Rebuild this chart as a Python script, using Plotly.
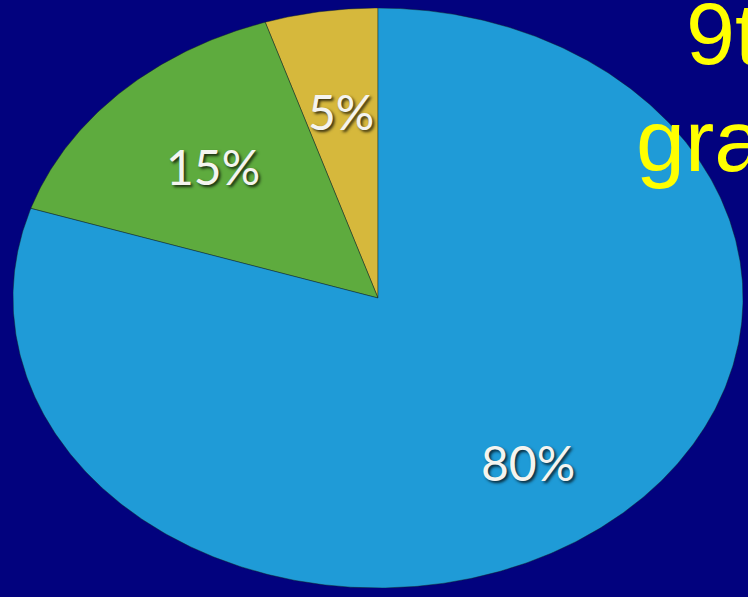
import numpy as np
import plotly.graph_objects as go

# Pie data
labels = ["5%", "15%", "80%"]
values = [5, 15, 80]
colors = ["#d6b83c", "#5eab3e", "#1f9bd7"]

# Title text (runs off the right edge)
title_lines = ["9th", "grade"]

W, H = 748, 597
BG = "#02027e"

fig = go.Figure()

total = float(sum(values))
start = 90.0  # 12 o'clock, slices laid out counter-clockwise
label_r = [0.65, 0.64, 0.70]
annotations = []
for i, (lab, v, c) in enumerate(zip(labels, values, colors)):
    span = 360.0 * v / total
    th = np.radians(np.linspace(start, start + span, max(int(span * 2), 8)))
    xs = np.concatenate([[0.0], np.cos(th), [0.0]])
    ys = np.concatenate([[0.0], np.sin(th), [0.0]])
    fig.add_trace(go.Scatter(
        x=xs, y=ys, mode="lines", fill="toself", fillcolor=c,
        line=dict(color="rgba(20,40,30,0.45)", width=1),
        hoverinfo="skip", showlegend=False,
    ))
    mid = np.radians(start + span / 2)
    annotations.append(dict(
        x=label_r[i] * np.cos(mid), y=label_r[i] * np.sin(mid),
        xref="x", yref="y", text=lab, showarrow=False,
        font=dict(family="Lato, Open Sans, sans-serif", size=48, color="#f4f4f0",
                  shadow="2px 2px 3px rgba(0,0,0,0.75)"),
        xanchor="center", yanchor="middle",
    ))
    start += span

# Title lines in yellow
annotations.append(dict(
    x=684 / W, y=1 - 34 / H, xref="paper", yref="paper", text=title_lines[0],
    showarrow=False, xanchor="left", yanchor="middle",
    font=dict(family="Liberation Sans, Arial, sans-serif", size=88, color="#ffff00"),
))
annotations.append(dict(
    x=634 / W, y=1 - 140 / H, xref="paper", yref="paper", text=title_lines[1],
    showarrow=False, xanchor="left", yanchor="middle",
    font=dict(family="Liberation Sans, Arial, sans-serif", size=88, color="#ffff00"),
))

fig.update_layout(
    width=W, height=H,
    margin=dict(l=0, r=0, t=0, b=0),
    paper_bgcolor=BG, plot_bgcolor=BG,
    xaxis=dict(range=[-1, 1], domain=[13 / W, 743 / W], visible=False, fixedrange=True),
    yaxis=dict(range=[-1, 1], domain=[1 - 588 / H, 1 - 8 / H], visible=False, fixedrange=True),
    annotations=annotations,
)

fig.write_html("out.html")
